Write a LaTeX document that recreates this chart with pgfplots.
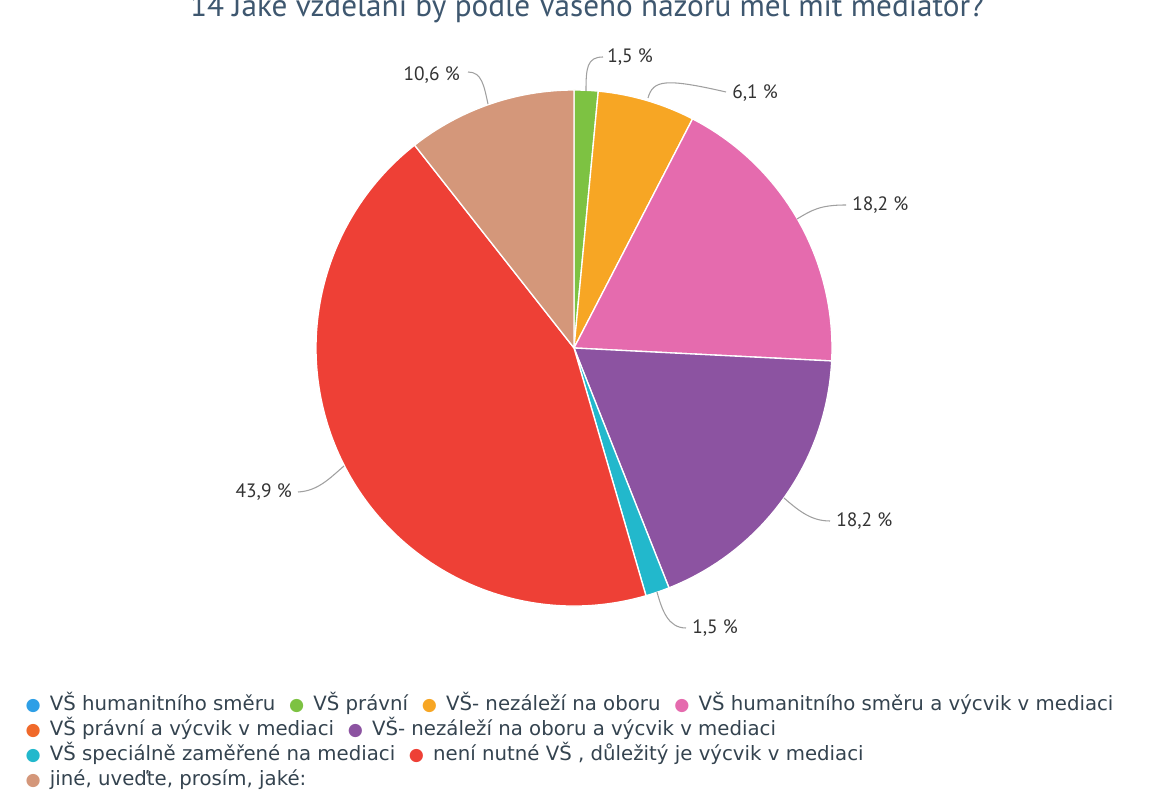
\documentclass[border=0pt]{standalone}
\usepackage{pgfplots}
\pgfplotsset{compat=1.18}
\usepackage{pgfplotstable}
\usepackage{fontspec}
\setmainfont{DejaVu Sans}
\newfontfamily\labelfont{PT Sans}

\definecolor{c1}{HTML}{2E9FE6}
\definecolor{c2}{HTML}{7DC242}
\definecolor{c3}{HTML}{F7A624}
\definecolor{c4}{HTML}{E56BAE}
\definecolor{c5}{HTML}{F0692A}
\definecolor{c6}{HTML}{8C53A1}
\definecolor{c7}{HTML}{22B8CC}
\definecolor{c8}{HTML}{EE4036}
\definecolor{c9}{HTML}{D4977A}
\definecolor{titlecol}{HTML}{3E576F}
\definecolor{legcol}{HTML}{34434F}
\definecolor{labcol}{HTML}{333333}
\definecolor{concol}{HTML}{A0A0A0}

% share of answers in percent, clockwise from 12 o'clock
\pgfplotstableread{
pct  col
0    c1
1.5  c2
6.1  c3
18.2 c4
0    c5
18.2 c6
1.5  c7
43.9 c8
10.6 c9
}\piedata

\newcommand\legmark[1]{\makebox[0pt][c]{\color{#1}\fontsize{13}{13}\selectfont ●}\hspace{12.5pt}}
\newcommand\leggap{\hspace{16pt}}

\begin{document}
\begin{tikzpicture}
\begin{axis}[
  x=0.75pt, y=0.75pt,
  xmin=0, xmax=1161, ymin=-792, ymax=0,
  hide axis, clip=false,
  anchor=south west, at={(0,0)},
]
% fixed frame of the picture
\path (axis cs:0,0) rectangle (axis cs:1161,-792);

\def\curang{90}
\pgfplotsforeachungrouped \i in {0,...,8}{%
  \pgfplotstablegetelem{\i}{pct}\of\piedata \let\pval\pgfplotsretval
  \pgfplotstablegetelem{\i}{col}\of\piedata \let\pcol\pgfplotsretval
  \pgfmathsetmacro\nextang{\curang-3.6*\pval}%
  \ifdim\pval pt>0pt
    \edef\temp{\noexpand\fill[\pcol,draw=white,line width=1pt,line join=round] (axis cs:574,-348) -- ++(\curang:193.5pt) arc[start angle=\curang,end angle=\nextang,radius=193.5pt] -- cycle;}%
    \temp
  \fi
  \global\let\curang\nextang
}

% connectors
\draw[concol, line width=0.8pt] (axis cs:586,-91) .. controls (axis cs:586,-68) and (axis cs:587,-57) .. (axis cs:603,-57);
\draw[concol, line width=0.8pt] (axis cs:648,-98) .. controls (axis cs:653,-80) and (axis cs:665,-78) .. (axis cs:726,-92);
\draw[concol, line width=0.8pt] (axis cs:797,-219) .. controls (axis cs:812,-210) and (axis cs:820,-205) .. (axis cs:846,-205);
\draw[concol, line width=0.8pt] (axis cs:784,-498) .. controls (axis cs:800,-512) and (axis cs:812,-521) .. (axis cs:830,-521);
\draw[concol, line width=0.8pt] (axis cs:657,-592) .. controls (axis cs:662,-610) and (axis cs:668,-628) .. (axis cs:686,-628);
\draw[concol, line width=0.8pt] (axis cs:344,-466) .. controls (axis cs:330,-478) and (axis cs:318,-491) .. (axis cs:298,-492);
\draw[concol, line width=0.8pt] (axis cs:488,-104) .. controls (axis cs:484,-86) and (axis cs:482,-72) .. (axis cs:468,-72);

% slice labels
\node[anchor=west, font=\labelfont\fontsize{14.5}{16}\selectfont, text=labcol, inner sep=0pt] at (axis cs:607,-57) {1,5 \%};
\node[anchor=west, font=\labelfont\fontsize{14.5}{16}\selectfont, text=labcol, inner sep=0pt] at (axis cs:732,-93) {6,1 \%};
\node[anchor=west, font=\labelfont\fontsize{14.5}{16}\selectfont, text=labcol, inner sep=0pt] at (axis cs:852,-205) {18,2 \%};
\node[anchor=west, font=\labelfont\fontsize{14.5}{16}\selectfont, text=labcol, inner sep=0pt] at (axis cs:836,-521) {18,2 \%};
\node[anchor=west, font=\labelfont\fontsize{14.5}{16}\selectfont, text=labcol, inner sep=0pt] at (axis cs:692,-628) {1,5 \%};
\node[anchor=east, font=\labelfont\fontsize{14.5}{16}\selectfont, text=labcol, inner sep=0pt] at (axis cs:292,-492) {43,9 \%};
\node[anchor=east, font=\labelfont\fontsize{14.5}{16}\selectfont, text=labcol, inner sep=0pt] at (axis cs:460,-75) {10,6 \%};

% title (its top is cut off by the page edge, as in the reference)
\node[font=\labelfont\fontsize{23.4}{26}\selectfont, text=titlecol, anchor=base, inner sep=0pt] at (axis cs:587,-17) {\smash{14 Jaké vzdělání by podle Vašeho názoru měl mít mediátor?}};

% legend
\node[font=\fontsize{14.8}{16}\selectfont, text=legcol, anchor=base west, inner sep=0pt] at (axis cs:33,-711) {\legmark{c1}VŠ humanitního směru\leggap\legmark{c2}VŠ právní\leggap\legmark{c3}VŠ- nezáleží na oboru\leggap\legmark{c4}VŠ humanitního směru a výcvik v mediaci};
\node[font=\fontsize{14.8}{16}\selectfont, text=legcol, anchor=base west, inner sep=0pt] at (axis cs:33,-736) {\legmark{c5}VŠ právní a výcvik v mediaci\leggap\legmark{c6}VŠ- nezáleží na oboru a výcvik v mediaci};
\node[font=\fontsize{14.8}{16}\selectfont, text=legcol, anchor=base west, inner sep=0pt] at (axis cs:33,-761) {\legmark{c7}VŠ speciálně zaměřené na mediaci\leggap\legmark{c8}není nutné VŠ , důležitý je výcvik v mediaci};
\node[font=\fontsize{14.8}{16}\selectfont, text=legcol, anchor=base west, inner sep=0pt] at (axis cs:33,-786) {\smash{\legmark{c9}jiné, uveďte, prosím, jaké:}};
\end{axis}
\end{tikzpicture}
\end{document}
